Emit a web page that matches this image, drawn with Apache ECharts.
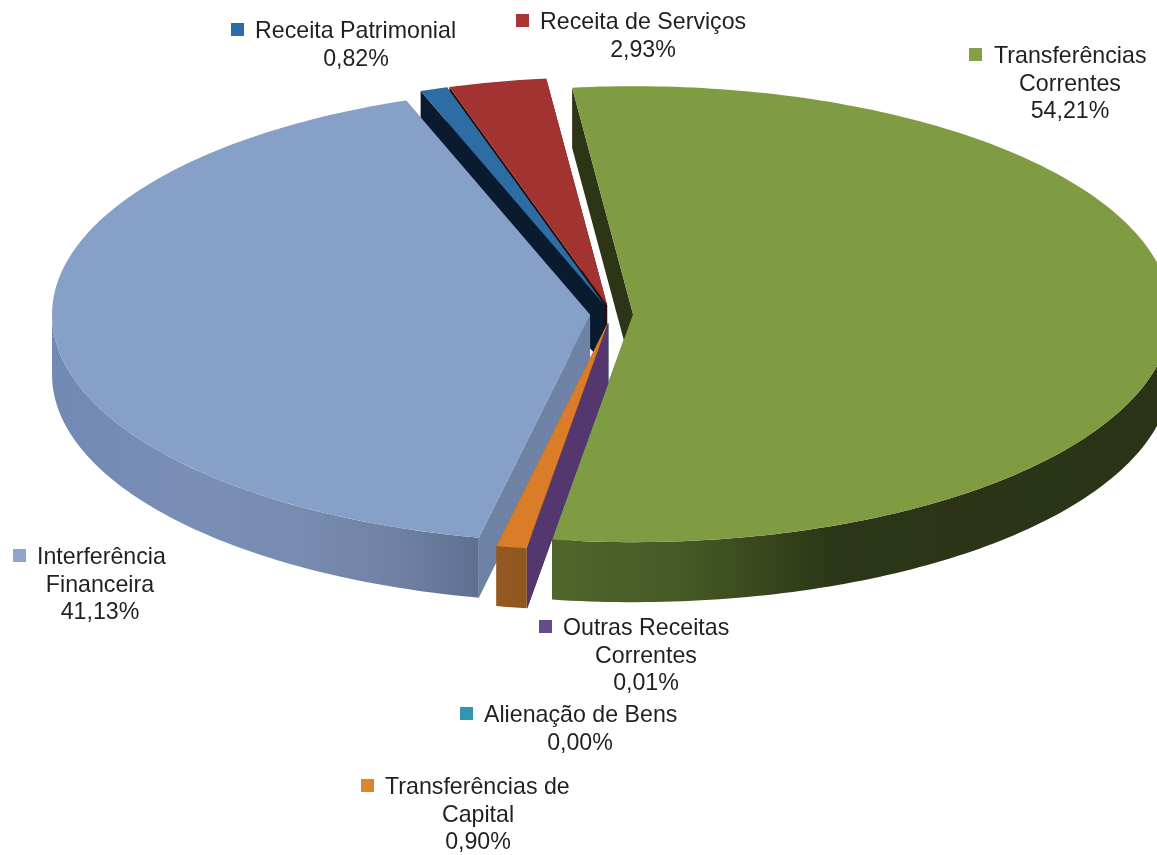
<!DOCTYPE html>
<html>
<head>
<meta charset="utf-8">
<style>html,body{margin:0;padding:0;background:#fff}#c{width:1157px;height:855px}</style>
<script src="https://cdn.jsdelivr.net/npm/echarts@6/dist/echarts.min.js"></script>
</head>
<body>
<div id="c"></div>
<script>
// clockwise from the start angle
var categories = ['Transferências Correntes','Outras Receitas Correntes','Alienação de Bens','Transferências de Capital','Interferência Financeira','Receita Patrimonial','Receita de Serviços'];
var shares = [54.21, 0.01, 0.00, 0.90, 41.13, 0.82, 2.93];
var topColors = ['#809c43','#664a8e','#3096b0','#da7c28','#87a0c7','#2e6ca4','#a33331'];
var sideColors = ['#2c3617','#54376f','#2a7f95','#955a22','#6d82a5','#0a1b30','#2a0e0c'];
var legendColors = ['#82a044','#664a8e','#3096b0','#e0832d','#8ea6cd','#2a6ca8','#a63533'];
var paintOrder = [6,5,0,4,2,3,1];

var pie = {cx:611.5, cy:314, rx:538, ry:228, depth:60, explode:0.04, startDeg:-6.5};

function stops(list){ return {type:'linear',x:0,y:0,x2:1157,y2:0,global:true,
  colorStops:list.map(function(s){return {offset:s[0]/1157,color:s[1]};})}; }
var outerFills = {
  0: stops([[553,'#50662b'],[680,'#465a26'],[830,'#2c3717'],[1157,'#2a3316']]),
  3: stops([[490,'#955a22'],[530,'#915620']]),
  4: stops([[52,'#7189b4'],[200,'#7a8fb6'],[300,'#788bb0'],[400,'#6f81a3'],[478,'#5e7091']])
};

var labelLayout = [
  {i:0, lines:['Transferências','Correntes'], mx:969, tx:1070, y:57},
  {i:1, lines:['Outras Receitas','Correntes'], mx:539, tx:646, y:629},
  {i:2, lines:['Alienação de Bens'], mx:460, tx:580, y:716},
  {i:3, lines:['Transferências de','Capital'], mx:361, tx:478, y:788},
  {i:4, lines:['Interferência','Financeira'], mx:13, tx:100, y:558},
  {i:5, lines:['Receita Patrimonial'], mx:231, tx:356, y:32},
  {i:6, lines:['Receita de Serviços'], mx:516, tx:643, y:23}
];
var firstLineLeft = {0:994,1:563,2:484,3:385,4:37,5:255,6:540};

function pct(v){ return v.toFixed(2).replace('.',',')+'%'; }

var cumulative = [], running = 0;
shares.forEach(function(v){ cumulative.push(running); running += v; });

function pt(ox, oy, deg, drop){
  var r = deg*Math.PI/180;
  return [ox+pie.rx*Math.sin(r), oy-pie.ry*Math.cos(r)+drop];
}
function renderSlice(params, api){
  var idx = api.value(0), share = api.value(1);
  var a0 = pie.startDeg + cumulative[idx]*3.6;
  var a1 = a0 + share*3.6;
  var mid = (a0+a1)/2*Math.PI/180;
  var ox = pie.cx + pie.explode*pie.rx*Math.sin(mid);
  var oy = pie.cy - pie.explode*pie.ry*Math.cos(mid);
  var d = pie.depth, arcTop = [];
  var n = Math.max(1, Math.ceil(a1-a0));
  for (var k=0;k<=n;k++){ arcTop.push(pt(ox,oy,a0+(a1-a0)*k/n,0)); }
  var side = sideColors[idx];
  function wall(p){ return [p,[p[0],p[1]+d],[ox,oy+d],[ox,oy]]; }
  var children = [
    {type:'polygon',shape:{points:wall(arcTop[n])},style:{fill:side}},
    {type:'polygon',shape:{points:wall(arcTop[0])},style:{fill:side}}
  ];
  // only the front half of the rim faces the viewer
  var f0 = Math.max(a0,90), f1 = Math.min(a1,270);
  if (f1 > f0){
    var rimTop = [], rimBottom = [], m = Math.max(1,Math.ceil(f1-f0));
    for (var j=0;j<=m;j++){
      var a = f0+(f1-f0)*j/m;
      rimTop.push(pt(ox,oy,a,0));
      rimBottom.unshift(pt(ox,oy,a,d));
    }
    children.push({type:'polygon',shape:{points:rimTop.concat(rimBottom)},style:{fill:outerFills[idx]||side}});
  }
  children.push({type:'polygon',shape:{points:[[ox,oy]].concat(arcTop)},style:{fill:topColors[idx]}});
  return {type:'group',children:children};
}

var FONT = '"Liberation Sans", Arial, sans-serif', SIZE = 23.2, LEAD = 27.3, INK = '#231f20';
var graphics = [];
labelLayout.forEach(function(b){
  graphics.push({type:'rect',left:b.mx,top:b.y-9,shape:{width:13,height:13},style:{fill:legendColors[b.i]},silent:true});
  var rows = b.lines.concat([pct(shares[b.i])]);
  rows.forEach(function(t,j){
    var first = j===0;
    graphics.push({type:'text',silent:true,x:first?firstLineLeft[b.i]:b.tx,y:b.y+j*LEAD,
      style:{text:t,fill:INK,font:SIZE+'px '+FONT,textAlign:first?'left':'center',textVerticalAlign:'middle'}});
  });
});

var chart = echarts.init(document.getElementById('c'),null,{renderer:'canvas'});
chart.setOption({
  animation:false,
  backgroundColor:'#fff',
  graphic:{elements:graphics},
  series:[{
    type:'custom',
    coordinateSystem:'none',
    silent:true,
    clip:false,
    renderItem:renderSlice,
    encode:{value:1},
    data:paintOrder.map(function(i){ return {name:categories[i],value:[i,shares[i]]}; })
  }]
});
</script>
</body>
</html>
